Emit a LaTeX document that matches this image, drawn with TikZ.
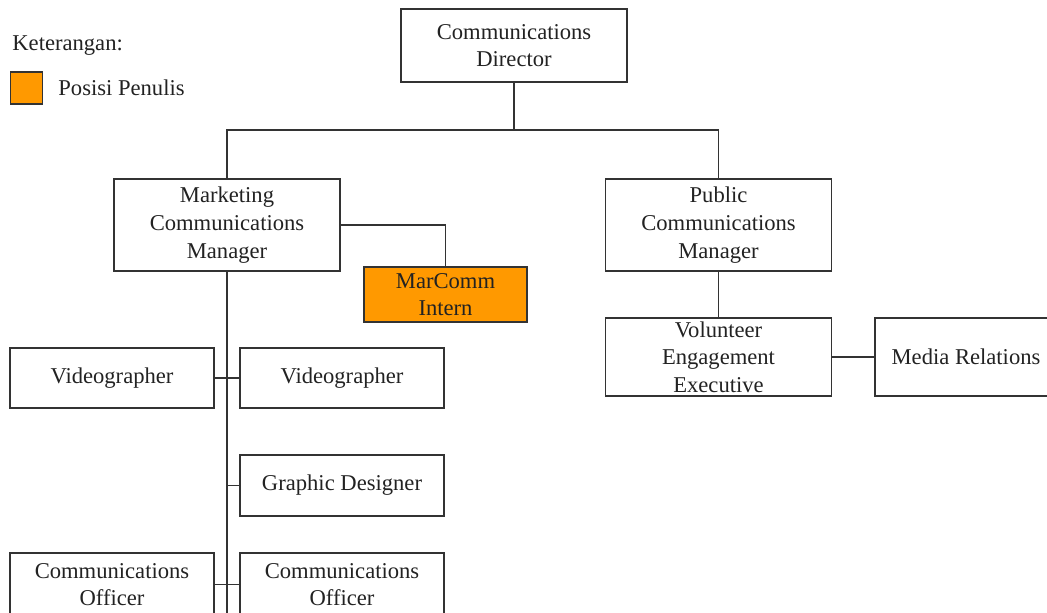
\documentclass[tikz,border=0pt]{standalone}
\usepackage{fontspec}
\setmainfont{Liberation Serif}
\usepackage{xcolor}
\usetikzlibrary{positioning}
\definecolor{cLine}{HTML}{333333}
\definecolor{cText}{HTML}{222222}
\definecolor{cMe}{HTML}{FF9900}
\tikzset{
  posbox/.style = {rectangle, draw=cLine, line width=0.8pt, align=center,
                  text=cText, font=\fontsize{11.3}{13.8}\selectfont,
                  inner sep=0pt, minimum width=102pt, minimum height=30pt},
  mgr/.style    = {posbox, minimum width=113pt, minimum height=46pt},
  me/.style     = {posbox, fill=cMe},
  ln/.style     = {draw=cLine, line width=0.8pt},
  legtxt/.style = {text=cText, font=\fontsize{11.3}{13.8}\selectfont, inner sep=0pt, anchor=west},
}
\begin{document}
\begin{tikzpicture}[x=0.5pt,y=-0.5pt]
  \useasboundingbox (0,0) rectangle (1047,612);
  \clip (0,0) rectangle (1047,612);

  % ---- LEGEND ----
  \node[legtxt] (ket) at (12,46) {Keterangan:};
  \node[me, minimum width=16pt, minimum height=16pt] (key) at (26.5,88) {};
  \node[legtxt] (keylab) at (58,88) {Posisi Penulis};

  % ---- TOP ----
  \node[mgr, minimum height=36.5pt] (dir) at (514,45.5) {Communications\\Director};
  \node[mgr] (mcm) at (227,225) {Marketing\\Communications\\Manager};
  \node[mgr] (pcm) at (718.5,225) {Public\\Communications\\Manager};
  \coordinate (split) at (514,130);

  % ---- MARKETING SIDE ----
  \node[me, minimum width=81.5pt, minimum height=27.5pt] (intern) at (445.5,294.5) {MarComm\\Intern};
  \node[posbox] (vid1) at (112,378) {Videographer};
  \node[posbox] (vid2) at (342,378) {Videographer};
  \node[posbox, minimum height=30.5pt] (gd) at (342,485.5) {Graphic Designer};
  \node[posbox, minimum height=31.5pt] (off1) at (112,584.5) {Communications\\Officer};
  \node[posbox, minimum height=31.5pt] (off2) at (342,584.5) {Communications\\Officer};
  \coordinate (trunk) at (227,640);

  % ---- PUBLIC SIDE ----
  \node[mgr, minimum height=39pt] (vee) at (718.5,357) {Volunteer\\Engagement\\Executive};
  \node[posbox, minimum width=91pt, minimum height=39pt] (media) at (966,357) {Media Relations};

  % ---- LINES ----
  \draw[ln] (dir.south) -- (split);
  \draw[ln] (mcm.north) |- (split) -| (pcm.north);
  \draw[ln] (mcm.east) -| (intern.north);
  \draw[ln] (mcm.south) -- (trunk);
  \draw[ln] (vid1.east) -- (vid2.west);
  \draw[ln] (gd.west) -- (gd.west -| trunk);
  \draw[ln] (off1.east) -- (off2.west);
  \draw[ln] (pcm.south) -- (vee.north);
  \draw[ln] (vee.east) -- (media.west);
\end{tikzpicture}
\end{document}
